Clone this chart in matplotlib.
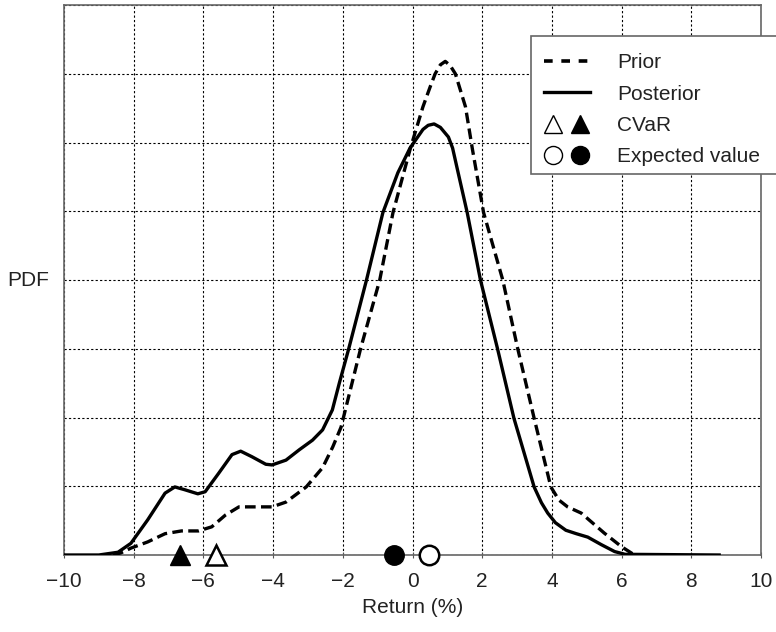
import numpy as np
import matplotlib.pyplot as plt
from matplotlib.lines import Line2D
from matplotlib.patches import Rectangle
from matplotlib.legend_handler import HandlerTuple

plt.rcParams['font.family'] = ['Liberation Sans', 'DejaVu Sans']

# Posterior PDF (arbitrary units)
post_x = [-10, -9.0, -8.45, -8.08, -7.6, -7.1, -6.82, -6.54, -6.16, -5.95, -5.56, -5.18,
          -4.93, -4.61, -4.21, -4.03, -3.63, -3.25, -2.87, -2.58, -2.3, -2.1, -1.83,
          -1.32, -0.85, -0.42, -0.07, 0.3, 0.45, 0.62, 0.8, 1.03, 1.15, 1.31, 1.57,
          1.95, 2.44, 2.91, 3.49, 3.7, 3.88, 4.1, 4.4, 4.7, 5.03, 5.42, 5.8, 6.1, 8.8]
post_y = [0, 0, 0.04, 0.17, 0.51, 0.9, 0.99, 0.95, 0.89, 0.92, 1.19, 1.46,
          1.51, 1.43, 1.32, 1.31, 1.38, 1.53, 1.67, 1.82, 2.11, 2.5, 3.0,
          4.0, 4.98, 5.56, 5.92, 6.19, 6.25, 6.27, 6.22, 6.08, 5.92, 5.56, 4.98,
          4.0, 3.0, 1.99, 0.99, 0.76, 0.61, 0.47, 0.36, 0.31, 0.26, 0.15, 0.05, 0.01, 0]

# Prior PDF
prior_x = [-8.6, -8.37, -8.08, -7.6, -7.1, -6.63, -6.14, -5.76, -5.37, -4.98, -4.03,
           -3.63, -3.05, -2.58, -2.29, -2.05, -1.76, -1.49, -0.94, -0.56, -0.07, 0.3,
           0.5, 0.65, 0.8, 0.94, 1.08, 1.23, 1.52, 1.72, 2.04, 2.59, 3.02, 3.49, 3.97,
           4.2, 4.45, 4.84, 5.5, 6.0, 6.37]
prior_y = [0, 0.03, 0.1, 0.19, 0.31, 0.35, 0.35, 0.41, 0.58, 0.7, 0.7,
           0.77, 0.99, 1.27, 1.57, 1.86, 2.45, 3.0, 4.0, 4.98, 5.9, 6.52,
           6.8, 7.0, 7.13, 7.18, 7.12, 7.0, 6.52, 5.9, 4.98, 4.0, 3.0, 1.99, 0.99,
           0.8, 0.7, 0.61, 0.32, 0.12, 0.0]

cvar_prior, cvar_post = -5.65, -6.66
ev_prior, ev_post = 0.48, -0.53

fig = plt.figure(figsize=(7.76, 6.32), dpi=100)
ax = fig.add_axes([64 / 776, 1 - 555 / 632, 697 / 776, 550 / 632])

ax.plot(post_x, post_y, color='black', lw=2.4, zorder=3)
ax.plot(prior_x, prior_y, color='black', lw=2.4, dashes=(3.2, 1.6), zorder=3)

ms = 14
ax.plot(cvar_post, 0, marker='^', ms=ms, color='black', clip_on=False, zorder=4)
ax.plot(cvar_prior, 0, marker='^', ms=ms, mfc='white', mec='black', mew=1.8,
        clip_on=False, zorder=4)
ax.plot(ev_post, 0, marker='o', ms=ms, color='black', clip_on=False, zorder=4)
ax.plot(ev_prior, 0, marker='o', ms=ms, mfc='white', mec='black', mew=1.8,
        clip_on=False, zorder=4)

ax.set_xlim(-10, 10)
ax.set_ylim(0, 8)
ax.set_xticks(np.arange(-10, 11, 2))
ax.set_yticks(np.arange(0, 9, 1))
ax.set_yticklabels([])
ax.tick_params(axis='x', labelsize=15, length=4, direction='inout', color='#555555',
               labelcolor='#222222', pad=10)
ax.tick_params(axis='y', length=0)
ax.grid(True, linestyle=(0, (2, 2)), color='black', lw=0.8)
for s in ax.spines.values():
    s.set_color('#666666')
    s.set_linewidth(1.2)
ax.set_xlabel('Return (%)', fontsize=15, color='#222222', labelpad=5)
fig.text(7 / 776, 1 - 281 / 632, 'PDF', fontsize=15, color='#222222', va='center')

# legend
fig.patches.append(Rectangle((531 / 776, 1 - 174 / 632), 0.5, 138 / 632,
                             transform=fig.transFigure, facecolor='white',
                             edgecolor='#666666', lw=1.2, zorder=5))
h_prior = Line2D([], [], color='black', lw=2.6, dashes=(2.4, 2.4))
h_post = Line2D([], [], color='black', lw=2.4)
h_cvar = (Line2D([], [], ls='', marker='^', ms=13, mfc='white', mec='black', mew=1),
          Line2D([], [], ls='', marker='^', ms=13, color='black'))
h_ev = (Line2D([], [], ls='', marker='o', ms=13, mfc='white', mec='black', mew=1),
        Line2D([], [], ls='', marker='o', ms=13, color='black'))
leg = fig.legend([h_prior, h_post, h_cvar, h_ev],
                 ['Prior', 'Posterior', 'CVaR', 'Expected value'],
                 handler_map={tuple: HandlerTuple(ndivide=None, pad=0.4)},
                 loc='upper left', bbox_to_anchor=(544 / 776, 1 - 53 / 632),
                 frameon=False, fontsize=15, handlelength=2.2, handletextpad=1.3,
                 labelspacing=0.6, borderpad=0, borderaxespad=0)
leg.set_zorder(6)
for t in leg.get_texts():
    t.set_color('#222222')

fig.savefig('out.png', dpi=100)
